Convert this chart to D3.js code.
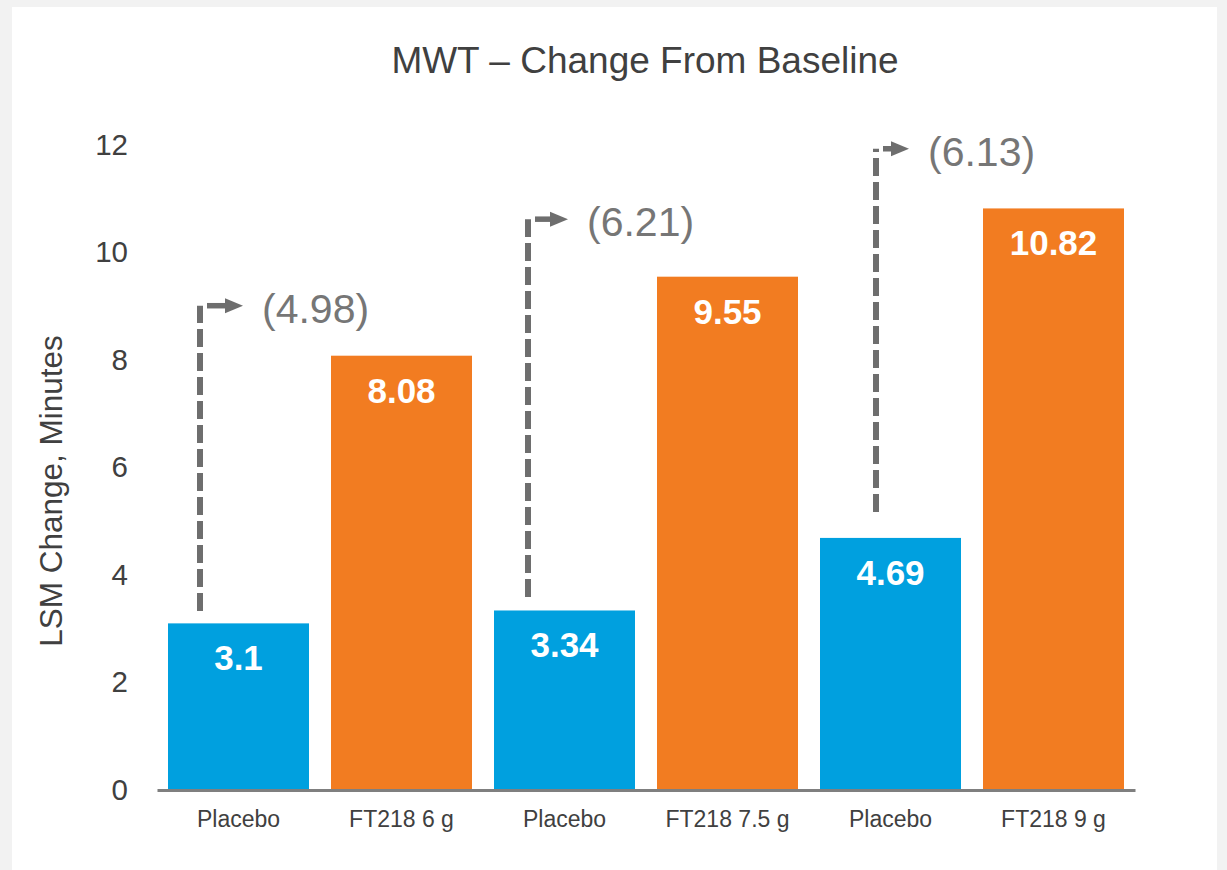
<!DOCTYPE html>
<html>
<head>
<meta charset="utf-8">
<script src="https://cdn.jsdelivr.net/npm/d3@7"></script>
<style>
  html, body { margin: 0; padding: 0; background: #f2f2f2; }
  svg { display: block; font-family: Arial, "Liberation Sans", sans-serif; }
</style>
</head>
<body>
<svg id="chart" width="1227" height="870"></svg>
<script>
// ---- data ----
const categories = ["Placebo", "FT218 6 g", "Placebo", "FT218 7.5 g", "Placebo", "FT218 9 g"];
const values = [3.1, 8.08, 3.34, 9.55, 4.69, 10.82];
const groups = ["placebo", "ft218", "placebo", "ft218", "placebo", "ft218"];
const yTicks = [0, 2, 4, 6, 8, 10, 12];
const diffLabels = ["(4.98)", "(6.21)", "(6.13)"];
const arrowLow = [3.33, 3.59, 5.17];
const arrowHigh = [9.01, 10.62, 11.93];

// ---- layout ----
const svg = d3.select("#chart");
svg.append("rect").attr("x", 12).attr("y", 7).attr("width", 1205).attr("height", 870)
  .attr("fill", "#ffffff");

const x = d3.scaleBand()
  .domain(d3.range(categories.length))
  .range([157, 1135])
  .paddingInner(0.135)
  .paddingOuter(0.0675);
const y = d3.scaleLinear().domain([0, 12]).range([790, 145]);

const color = { placebo: "#00A0DF", ft218: "#F27C21" };

// title
svg.append("text").attr("x", 645).attr("y", 73).attr("text-anchor", "middle")
  .attr("font-size", 37).attr("fill", "#404040").text("MWT \u2013 Change From Baseline");

// y axis title
svg.append("text").attr("transform", "translate(62,491) rotate(-90)")
  .attr("text-anchor", "middle").attr("font-size", 31.5).attr("fill", "#404040")
  .text("LSM Change, Minutes");

// y axis (labels only)
const yAxis = d3.axisLeft(y).tickValues(yTicks).tickSize(0).tickPadding(0);
const gy = svg.append("g").attr("transform", "translate(128,0)").call(yAxis);
gy.select(".domain").remove();
gy.selectAll("text").attr("font-size", 29.5).attr("fill", "#404040")
  .attr("font-family", "Arial, 'Liberation Sans', sans-serif");

// bars
svg.selectAll("rect.bar").data(values).enter().append("rect")
  .attr("class", "bar")
  .attr("x", (d, i) => x(i))
  .attr("y", d => y(d))
  .attr("width", x.bandwidth())
  .attr("height", d => y(0) - y(d))
  .attr("fill", (d, i) => color[groups[i]]);

// value labels
svg.selectAll("text.val").data(values).enter().append("text")
  .attr("class", "val")
  .attr("x", (d, i) => x(i) + x.bandwidth() / 2)
  .attr("y", d => y(d) + 47)
  .attr("text-anchor", "middle")
  .attr("font-size", 35).attr("font-weight", "bold").attr("fill", "#ffffff")
  .text(d => String(d));

// x axis
const xAxis = d3.axisBottom(x).tickFormat(i => categories[i]).tickSize(0).tickPadding(0);
const gx = svg.append("g").attr("transform", "translate(0,790)").call(xAxis);
gx.select(".domain").attr("stroke", "#7f7f7f").attr("stroke-width", 3);
gx.selectAll("text").attr("font-size", 23).attr("fill", "#404040")
  .attr("dy", 0).attr("y", 37)
  .attr("font-family", "Arial, 'Liberation Sans', sans-serif");

// annotation arrows
const arrowXOffset = [32, 34, 56];
const tipLen = [43, 40, 33];
const arrowColor = "#6e6e6e";
diffLabels.forEach((lab, k) => {
  const bi = k * 2;
  const ax = x(bi) + arrowXOffset[k];
  const yb = y(arrowLow[k]);
  const yt = y(arrowHigh[k]);
  const tip = ax + tipLen[k];
  svg.append("line").attr("x1", ax).attr("x2", ax).attr("y1", yb).attr("y2", yt)
    .attr("stroke", arrowColor).attr("stroke-width", 6).attr("stroke-dasharray", "18,6");
  svg.append("line").attr("x1", ax + 7).attr("x2", tip - 17).attr("y1", yt).attr("y2", yt)
    .attr("stroke", arrowColor).attr("stroke-width", 5.5);
  svg.append("path")
    .attr("d", `M${tip - 18},${yt - 7.5} L${tip},${yt} L${tip - 18},${yt + 7.5} Z`)
    .attr("fill", arrowColor);
  svg.append("text").attr("x", tip + 19).attr("y", yt + 17)
    .attr("font-size", 41).attr("fill", "#767676").text(lab);
});
</script>
</body>
</html>
